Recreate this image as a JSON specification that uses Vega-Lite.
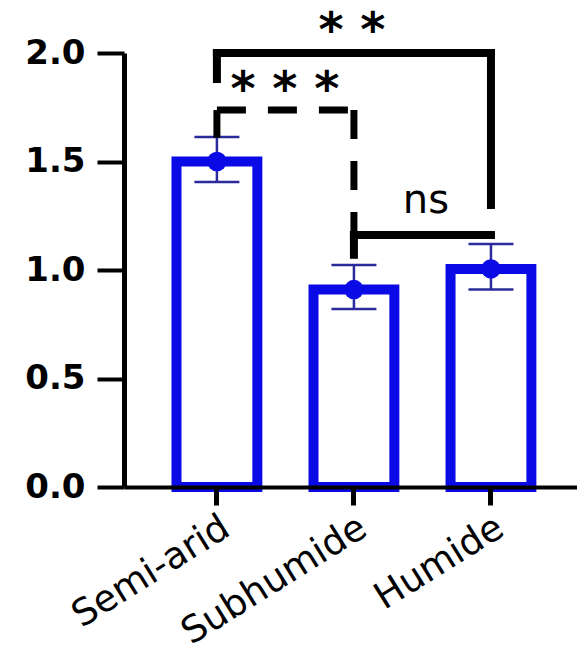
{
  "$schema": "https://vega.github.io/schema/vega-lite/v6.json",
  "autosize": {"type": "none"},
  "width": 453,
  "height": 434,
  "padding": {"left": 124, "top": 53, "right": 0, "bottom": 170},
  "background": "white",
  "config": {"view": {"stroke": null}},
  "datasets": {
    "groups": [
      {"zone": "Semi-arid", "mean": 1.50, "lo": 1.406, "hi": 1.613},
      {"zone": "Subhumide", "mean": 0.91, "lo": 0.82, "hi": 1.023},
      {"zone": "Humide", "mean": 1.005, "lo": 0.91, "hi": 1.12}
    ],
    "brackets": [
      {"test": "**", "from": "Semi-arid", "to": "Humide", "y": 2.0, "y2": 2.0},
      {"test": "**", "from": "Semi-arid", "to": "Semi-arid", "y": 2.0, "y2": 1.88},
      {"test": "**", "from": "Humide", "to": "Humide", "y": 2.0, "y2": 1.30},
      {"test": "***", "from": "Semi-arid", "to": "Subhumide", "y": 1.737, "y2": 1.737},
      {"test": "***", "from": "Semi-arid", "to": "Semi-arid", "y": 1.737, "y2": 1.61},
      {"test": "***", "from": "Subhumide", "to": "Subhumide", "y": 1.737, "y2": 1.07},
      {"test": "ns", "from": "Subhumide", "to": "Humide", "y": 1.161, "y2": 1.161},
      {"test": "ns", "from": "Subhumide", "to": "Subhumide", "y": 1.161, "y2": 1.07}
    ],
    "labels": [
      {"test": "**", "zone": "Subhumide", "y": 2.03, "text": "* *"},
      {"test": "***", "zone": "Semi-arid", "y": 1.76, "text": "* * *"},
      {"test": "ns", "zone": "Humide", "y": 1.263, "text": "ns"}
    ]
  },
  "encoding": {
    "x": {
      "field": "zone",
      "type": "nominal",
      "sort": ["Semi-arid", "Subhumide", "Humide"],
      "scale": {"domain": ["Semi-arid", "Subhumide", "Humide"], "paddingInner": 0.41, "paddingOuter": 0.358, "align": 0.535},
      "axis": {
        "title": null,
        "labelAngle": -32,
        "labelLimit": 0,
        "labelFont": "DejaVu Sans",
        "labelFontSize": 37,
        "labelColor": "black",
        "labelPadding": 4,
        "tickSize": 18,
        "tickWidth": 5,
        "tickColor": "black",
        "domainColor": "black",
        "domainWidth": 4,
        "zindex": 1
      }
    }
  },
  "layer": [
    {
      "data": {"name": "groups"},
      "mark": {"type": "bar", "fill": "white", "stroke": "#0a0ae6", "strokeWidth": 10},
      "encoding": {
        "y": {
          "field": "mean",
          "type": "quantitative",
          "scale": {"domain": [0, 2], "nice": false},
          "axis": {
            "title": null,
            "values": [0, 0.5, 1, 1.5, 2],
            "format": ".1f",
            "grid": false,
            "labelFont": "DejaVu Sans",
            "labelFontWeight": "bold",
            "labelFontSize": 34,
            "labelColor": "black",
            "labelPadding": 12,
            "tickSize": 27,
            "tickWidth": 4,
            "tickColor": "black",
            "domainColor": "black",
            "domainWidth": 5,
            "zindex": 1
          }
        }
      }
    },
    {
      "data": {"name": "groups"},
      "mark": {"type": "rule", "stroke": "#2a2a9c", "strokeWidth": 2.5},
      "encoding": {
        "y": {"field": "lo", "type": "quantitative"},
        "y2": {"field": "hi"}
      }
    },
    {
      "data": {"name": "groups"},
      "mark": {"type": "tick", "color": "#2a2a9c", "size": 45, "thickness": 2.5, "opacity": 1},
      "encoding": {"y": {"field": "hi", "type": "quantitative"}}
    },
    {
      "data": {"name": "groups"},
      "mark": {"type": "tick", "color": "#2a2a9c", "size": 45, "thickness": 2.5, "opacity": 1},
      "encoding": {"y": {"field": "lo", "type": "quantitative"}}
    },
    {
      "data": {"name": "groups"},
      "mark": {"type": "circle", "color": "#0a0ae6", "size": 380, "opacity": 1},
      "encoding": {"y": {"field": "mean", "type": "quantitative"}}
    },
    {
      "data": {"name": "brackets"},
      "transform": [{"filter": "datum.test !== '***'"}],
      "mark": {"type": "rule", "color": "black", "strokeWidth": 8, "strokeCap": "square"},
      "encoding": {
        "x": {"field": "from", "type": "nominal"},
        "x2": {"field": "to"},
        "y": {"field": "y", "type": "quantitative"},
        "y2": {"field": "y2"}
      }
    },
    {
      "data": {"name": "brackets"},
      "transform": [{"filter": "datum.test === '***'"}],
      "mark": {"type": "rule", "color": "black", "strokeWidth": 7, "strokeDash": [29, 22]},
      "encoding": {
        "x": {"field": "from", "type": "nominal"},
        "x2": {"field": "to"},
        "y": {"field": "y", "type": "quantitative"},
        "y2": {"field": "y2"}
      }
    },
    {
      "data": {"name": "labels"},
      "transform": [{"filter": "datum.test === '**'"}],
      "mark": {"type": "text", "font": "DejaVu Sans", "fontWeight": "bold", "fontSize": 48, "dx": -2, "align": "center", "baseline": "alphabetic", "color": "black"},
      "encoding": {
        "y": {"field": "y", "type": "quantitative"},
        "text": {"field": "text"}
      }
    },
    {
      "data": {"name": "labels"},
      "transform": [{"filter": "datum.test === '***'"}],
      "mark": {"type": "text", "font": "DejaVu Sans", "fontWeight": "bold", "fontSize": 48, "dx": 68, "align": "center", "baseline": "alphabetic", "color": "black"},
      "encoding": {
        "y": {"field": "y", "type": "quantitative"},
        "text": {"field": "text"}
      }
    },
    {
      "data": {"name": "labels"},
      "transform": [{"filter": "datum.test === 'ns'"}],
      "mark": {"type": "text", "font": "DejaVu Sans", "fontSize": 40, "dx": -65, "align": "center", "baseline": "alphabetic", "color": "black"},
      "encoding": {
        "y": {"field": "y", "type": "quantitative"},
        "text": {"field": "text"}
      }
    }
  ]
}
